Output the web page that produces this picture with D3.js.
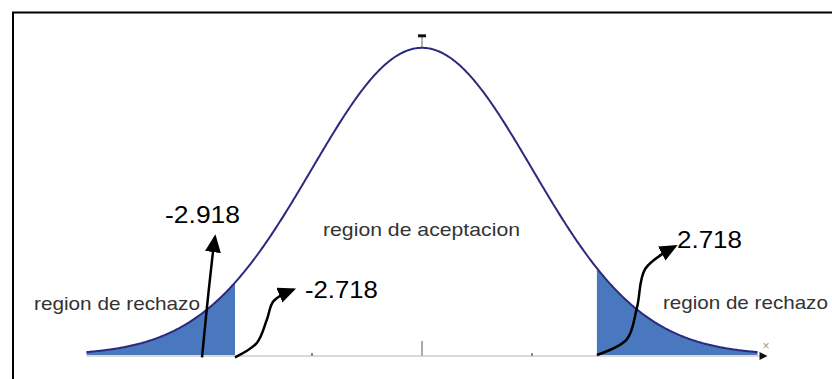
<!DOCTYPE html>
<html>
<head>
<meta charset="utf-8">
<script src="https://cdn.jsdelivr.net/npm/d3@7"></script>
<style>
  body { margin: 0; background: #fff; }
  svg { display: block; font-family: "Liberation Sans", Arial, sans-serif; }
</style>
</head>
<body>
<svg width="832" height="379"></svg>
<script>
var svg = d3.select("svg");
var width = +svg.attr("width");
var height = +svg.attr("height");

// standard normal curve, z from -3.05 to 3.05
var zMin = -3.05, zMax = 3.05;
var zLeft = -1.70;      // left rejection bound
var zRight = 1.59;      // right rejection bound
var tickValues = [-1, 0, 1];

var regionLabels = ["region de rechazo", "region de aceptacion", "region de rechazo"];
var regionZ = [-3.527, -0.9, 2.19];
var regionD = [0.0584, 0.1545, 0.0597];
var regionW = [166, 197, 165];

var valueLabels = ["-2.918", "-2.718", "2.718"];
var valueZ = [-2.336, -1.064, 2.318];
var valueD = [0.1714, 0.074, 0.139];
var valueW = [75, 73, 65];

// annotation arrows, in (z, density), last point is the tip
var arrows = [
  [[-2.0, -0.003], [-1.955, 0.062], [-1.905, 0.128], [-1.882, 0.153]],
  [[-1.7, -0.003], [-1.5, 0.016], [-1.41, 0.046], [-1.35, 0.07], [-1.17, 0.085]],
  [[1.59, 0.0], [1.86, 0.02], [1.955, 0.062], [2.03, 0.112], [2.3, 0.141]]
];

var x = d3.scaleLinear().domain([zMin, zMax]).range([86.5, 757.5]);
var y = d3.scaleLinear().domain([0, 0.4]).range([355, 47]);

function pdf(z) { return Math.exp(-z * z / 2) / Math.sqrt(2 * Math.PI); }

var pts = d3.range(zMin, zMax + 0.001, 0.01).map(function(z) { return [z, pdf(z)]; });

// frame
svg.append("rect")
   .attr("x", 13).attr("y", 12.5)
   .attr("width", width).attr("height", height)
   .attr("fill", "none")
   .attr("stroke", "#000")
   .attr("stroke-width", 2);

var defs = svg.append("defs");
defs.append("marker")
    .attr("id", "head")
    .attr("markerUnits", "userSpaceOnUse")
    .attr("viewBox", "0 0 18 16")
    .attr("refX", 15).attr("refY", 8)
    .attr("markerWidth", 18).attr("markerHeight", 16)
    .attr("orient", "auto")
  .append("path")
    .attr("d", "M0,0 L18,8 L0,16 Z")
    .attr("fill", "#000");
defs.append("marker")
    .attr("id", "axhead")
    .attr("markerUnits", "userSpaceOnUse")
    .attr("viewBox", "0 0 10 10")
    .attr("refX", 0).attr("refY", 5)
    .attr("markerWidth", 11).attr("markerHeight", 8)
    .attr("orient", "auto")
  .append("path")
    .attr("d", "M0,0 L10,5 L0,10 Z")
    .attr("fill", "#111");

// axis line
svg.append("line")
   .attr("x1", x(zMin)).attr("x2", x(zMax) + 2)
   .attr("y1", y(0) + 1).attr("y2", y(0) + 1)
   .attr("stroke", "#b5b5b5")
   .attr("stroke-width", 1.2)
   .attr("marker-end", "url(#axhead)");
svg.append("text")
   .attr("x", x(zMax) + 5).attr("y", y(0) - 5)
   .attr("font-size", 12).attr("fill", "#999")
   .text("×");

// ticks
svg.selectAll(".tick")
   .data(tickValues)
   .enter()
   .append("line")
   .attr("class", "tick")
   .attr("x1", function(d) { return x(d); })
   .attr("x2", function(d) { return x(d); })
   .attr("y1", function(d) { return d === 0 ? y(0) - 14 : y(0) - 2; })
   .attr("y2", y(0) + 1)
   .attr("stroke", function(d) { return d === 0 ? "#aaa" : "#888"; })
   .attr("stroke-width", 2);

// mean marker on top
svg.append("line")
   .attr("x1", x(0)).attr("x2", x(0))
   .attr("y1", y(pdf(0)) - 12).attr("y2", y(pdf(0)))
   .attr("stroke", "#999").attr("stroke-width", 1.5);
svg.append("line")
   .attr("x1", x(0) - 4).attr("x2", x(0) + 4)
   .attr("y1", y(pdf(0)) - 12).attr("y2", y(pdf(0)) - 12)
   .attr("stroke", "#111").attr("stroke-width", 3);

// shaded tails
var area = d3.area()
  .x(function(d) { return x(d[0]); })
  .y0(y(0))
  .y1(function(d) { return y(d[1]); });

svg.append("path")
   .datum(pts.filter(function(d) { return d[0] <= zLeft; }).concat([[zLeft, pdf(zLeft)]]))
   .attr("d", area)
   .attr("fill", "#4a78bf");
svg.append("path")
   .datum([[zRight, pdf(zRight)]].concat(pts.filter(function(d) { return d[0] >= zRight; })))
   .attr("d", area)
   .attr("fill", "#4a78bf");

// curve
var line = d3.line()
  .x(function(d) { return x(d[0]); })
  .y(function(d) { return y(d[1]); });
svg.append("path")
   .datum(pts)
   .attr("d", line)
   .attr("fill", "none")
   .attr("stroke", "#2c2a7c")
   .attr("stroke-width", 2);

// region labels
svg.selectAll(".region")
   .data(regionLabels)
   .enter()
   .append("text")
   .attr("class", "region")
   .attr("x", function(d, i) { return x(regionZ[i]); })
   .attr("y", function(d, i) { return y(regionD[i]); })
   .attr("textLength", function(d, i) { return regionW[i]; })
   .attr("lengthAdjust", "spacingAndGlyphs")
   .attr("font-size", 19)
   .attr("fill", "#333")
   .text(function(d) { return d; });

// value labels
svg.selectAll(".value")
   .data(valueLabels)
   .enter()
   .append("text")
   .attr("class", "value")
   .attr("x", function(d, i) { return x(valueZ[i]); })
   .attr("y", function(d, i) { return y(valueD[i]); })
   .attr("textLength", function(d, i) { return valueW[i]; })
   .attr("lengthAdjust", "spacingAndGlyphs")
   .attr("font-size", 24)
   .attr("fill", "#000")
   .text(function(d) { return d; });

// arrows
var arrowLine = d3.line()
  .x(function(d) { return x(d[0]); })
  .y(function(d) { return y(d[1]); })
  .curve(d3.curveCatmullRom);
svg.selectAll(".arrow")
   .data(arrows)
   .enter()
   .append("path")
   .attr("class", "arrow")
   .attr("d", arrowLine)
   .attr("fill", "none")
   .attr("stroke", "#000")
   .attr("stroke-width", 2.5)
   .attr("marker-end", "url(#head)");
</script>
</body>
</html>
